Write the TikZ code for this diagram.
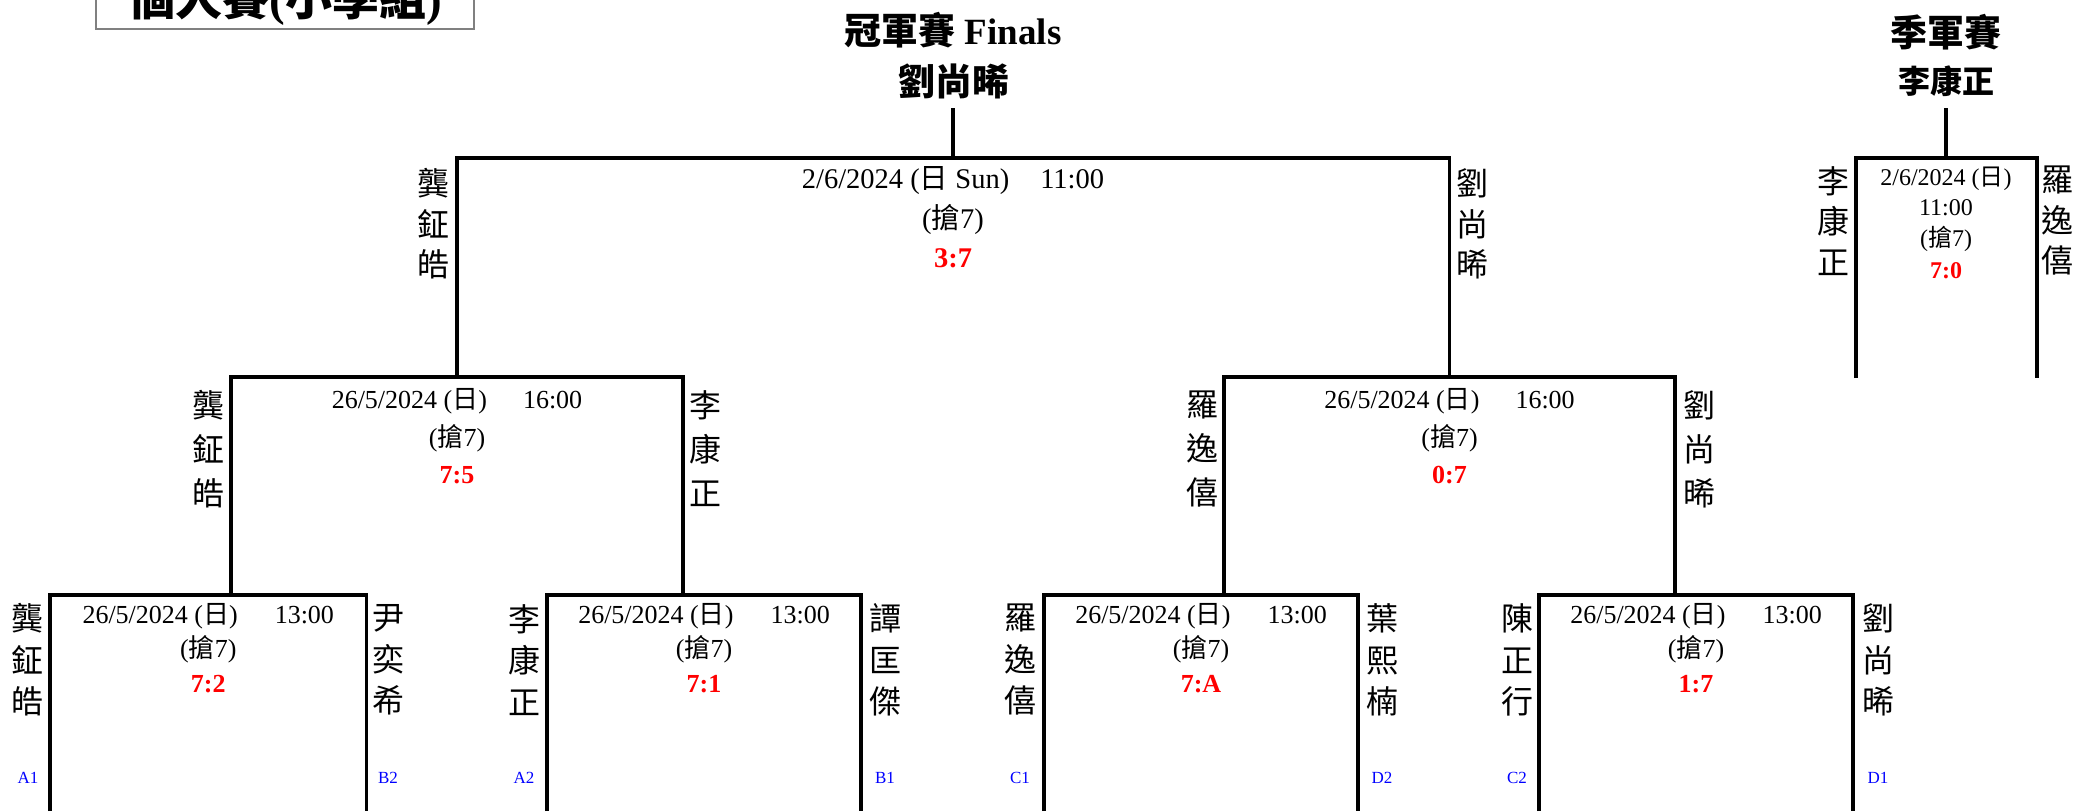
\documentclass[tikz,border=0pt]{standalone}
\usepackage{fontspec}
\setmainfont{Liberation Serif}
\newfontfamily\cjk{Noto Sans CJK TC}
\newcommand\zh[1]{{\cjk #1}}
\definecolor{scorered}{RGB}{255,0,0}
\definecolor{seedblue}{RGB}{0,0,255}
\definecolor{boxgray}{RGB}{128,128,128}

\begin{document}
\begin{tikzpicture}[x=1pt,y=-1pt,
  every node/.style={inner sep=0pt,outer sep=0pt},
  bracket/.style={line width=3.3pt,line join=miter},
  pnA/.style={font=\cjk\fontsize{32}{41.5}\selectfont,align=center},
  pnB/.style={font=\cjk\fontsize{32}{44}\selectfont,align=center},
  pnC/.style={font=\cjk\fontsize{32}{40.5}\selectfont,align=center},
  dA/.style={anchor=base,font=\fontsize{26}{30}\selectfont},
  sA/.style={anchor=base,font=\fontsize{26}{30}\selectfont\bfseries,text=scorered},
  dF/.style={anchor=base,font=\fontsize{28.5}{32}\selectfont},
  sF/.style={anchor=base,font=\fontsize{28.5}{32}\selectfont\bfseries,text=scorered},
  dT/.style={anchor=base,font=\fontsize{24}{28}\selectfont},
  sT/.style={anchor=base,font=\fontsize{24}{28}\selectfont\bfseries,text=scorered},
  seed/.style={anchor=base,font=\fontsize{17}{20}\selectfont,text=seedblue},
  headtxt/.style={font=\fontsize{37}{42}\selectfont\bfseries}
]
\useasboundingbox (0,0) rectangle (2077,811);

% title box (cut at top)
\draw[draw=boxgray,line width=2pt,fill=white] (96,-60) rectangle (474,29);
\node[anchor=base,font=\cjk\fontsize{47}{52}\selectfont\bfseries] (maintitle) at (285,16) {個人賽\textbf{\rmfamily(}小學組\textbf{\rmfamily)}};

% ---------- coordinates ----------
% first round boxes
\coordinate (m1bl) at (50,811);   \coordinate (m1tl) at (50,595);
\coordinate (m1tr) at (366.5,595); \coordinate (m1br) at (366.5,811);
\coordinate (m2bl) at (547,811);  \coordinate (m2tl) at (547,595);
\coordinate (m2tr) at (861,595);  \coordinate (m2br) at (861,811);
\coordinate (m3bl) at (1044,811); \coordinate (m3tl) at (1044,595);
\coordinate (m3tr) at (1358,595); \coordinate (m3br) at (1358,811);
\coordinate (m4bl) at (1539,811); \coordinate (m4tl) at (1539,595);
\coordinate (m4tr) at (1853,595); \coordinate (m4br) at (1853,811);
% semis
\coordinate (m1up) at (231,595);  \coordinate (s1tl) at (231,377);
\coordinate (s1tr) at (683,377);  \coordinate (m2up) at (683,595);
\coordinate (m3up) at (1224,595); \coordinate (s2tl) at (1224,377);
\coordinate (s2tr) at (1675,377); \coordinate (m4up) at (1675,595);
% final
\coordinate (s1up) at (457,377);  \coordinate (ftl) at (457,158);
\coordinate (ftr) at (1449.5,158); \coordinate (s2up) at (1449.5,377);
\coordinate (ftop) at (953,158);  \coordinate (fstub) at (953,108);
% third place
\coordinate (tbl) at (1856,378);  \coordinate (ttl) at (1856,158);
\coordinate (ttr) at (2037,158);  \coordinate (tbr) at (2037,378);
\coordinate (ttop) at (1946,158); \coordinate (tstub) at (1946,108);

% ---------- lines ----------
\draw[bracket] (m1bl) -- (m1tl) -- (m1tr) -- (m1br);
\draw[bracket] (m2bl) -- (m2tl) -- (m2tr) -- (m2br);
\draw[bracket] (m3bl) -- (m3tl) -- (m3tr) -- (m3br);
\draw[bracket] (m4bl) -- (m4tl) -- (m4tr) -- (m4br);
\draw[bracket] (m1up) -- (s1tl) -- (s1tr) -- (m2up);
\draw[bracket] (m3up) -- (s2tl) -- (s2tr) -- (m4up);
\draw[bracket] (s1up) -- (ftl) -- (ftr) -- (s2up);
\draw[bracket] (ftop) -- (fstub);
\draw[bracket] (tbl) -- (ttl) -- (ttr) -- (tbr);
\draw[bracket] (ttop) -- (tstub);

% ---------- headings ----------
\node[headtxt,anchor=base] (finalhead) at (953,44) {\zh{冠軍賽} Finals};
\node[headtxt,font=\cjk\fontsize{37}{42}\selectfont\bfseries] (champ) at (954,81.5) {劉尚晞};
\node[headtxt,font=\cjk\fontsize{37}{42}\selectfont\bfseries] (thirdhead) at (1946,32.5) {季軍賽};
\node[font=\cjk\fontsize{32}{38}\selectfont\bfseries] (thirdwin) at (1946,81) {李康正};

% ---------- first round ----------
\node[pnA] (p1) at (28,660) {龔\\鉦\\皓};
\node[pnA] (p2) at (388,660) {尹\\奕\\希};
\node[pnA] (p3) at (524,660) {李\\康\\正};
\node[pnA] (p4) at (885,660) {譚\\匡\\傑};
\node[pnA] (p5) at (1020,660) {羅\\逸\\僖};
\node[pnA] (p6) at (1382,660) {葉\\熙\\楠};
\node[pnA] (p7) at (1517,660) {陳\\正\\行};
\node[pnA] (p8) at (1878,660) {劉\\尚\\晞};

\node[seed] (g1) at (28,783) {A1};
\node[seed] (g2) at (388,783) {B2};
\node[seed] (g3) at (524,783) {A2};
\node[seed] (g4) at (885,783) {B1};
\node[seed] (g5) at (1020,783) {C1};
\node[seed] (g6) at (1382,783) {D2};
\node[seed] (g7) at (1517,783) {C2};
\node[seed] (g8) at (1878,783) {D1};

\node[dA] (m1d) at (208.25,623) {26/5/2024 (\zh{日})\hspace{37pt}13:00};
\node[dA] (m1r) at (208.25,657) {(\zh{搶}7)};
\node[sA] (m1s) at (208.25,692) {7:2};
\node[dA] (m2d) at (704,623) {26/5/2024 (\zh{日})\hspace{37pt}13:00};
\node[dA] (m2r) at (704,657) {(\zh{搶}7)};
\node[sA] (m2s) at (704,692) {7:1};
\node[dA] (m3d) at (1201,623) {26/5/2024 (\zh{日})\hspace{37pt}13:00};
\node[dA] (m3r) at (1201,657) {(\zh{搶}7)};
\node[sA] (m3s) at (1201,692) {7:A};
\node[dA] (m4d) at (1696,623) {26/5/2024 (\zh{日})\hspace{37pt}13:00};
\node[dA] (m4r) at (1696,657) {(\zh{搶}7)};
\node[sA] (m4s) at (1696,692) {1:7};

% ---------- semis ----------
\node[pnB] (q1) at (208,449) {龔\\鉦\\皓};
\node[pnB] (q2) at (705,449) {李\\康\\正};
\node[pnB] (q3) at (1202,449) {羅\\逸\\僖};
\node[pnB] (q4) at (1699,449) {劉\\尚\\晞};
\node[dA] (s1d) at (457,408) {26/5/2024 (\zh{日})\hspace{36pt}16:00};
\node[dA] (s1r) at (457,446) {(\zh{搶}7)};
\node[sA] (s1s) at (457,483) {7:5};
\node[dA] (s2d) at (1449.5,408) {26/5/2024 (\zh{日})\hspace{36pt}16:00};
\node[dA] (s2r) at (1449.5,446) {(\zh{搶}7)};
\node[sA] (s2s) at (1449.5,483) {0:7};

% ---------- final ----------
\node[pnC] (f1) at (433,224) {龔\\鉦\\皓};
\node[pnC] (f2) at (1472,224) {劉\\尚\\晞};
\node[dF] (fd) at (953,188) {2/6/2024 (\zh{日} Sun)\hspace{31pt}11:00};
\node[dF] (fr) at (953,228) {(\zh{搶}7)};
\node[sF] (fs) at (953,267) {3:7};

% ---------- third place ----------
\node[pnC] (t1) at (1833,221) {李\\康\\正};
\node[pnC] (t2) at (2057,221) {羅\\逸\\僖};
\node[dT] (td) at (1946,185) {2/6/2024 (\zh{日})};
\node[dT] (tt) at (1946,215) {11:00};
\node[dT] (tr) at (1946,246) {(\zh{搶}7)};
\node[sT] (ts) at (1946,278) {7:0};
\end{tikzpicture}
\end{document}
